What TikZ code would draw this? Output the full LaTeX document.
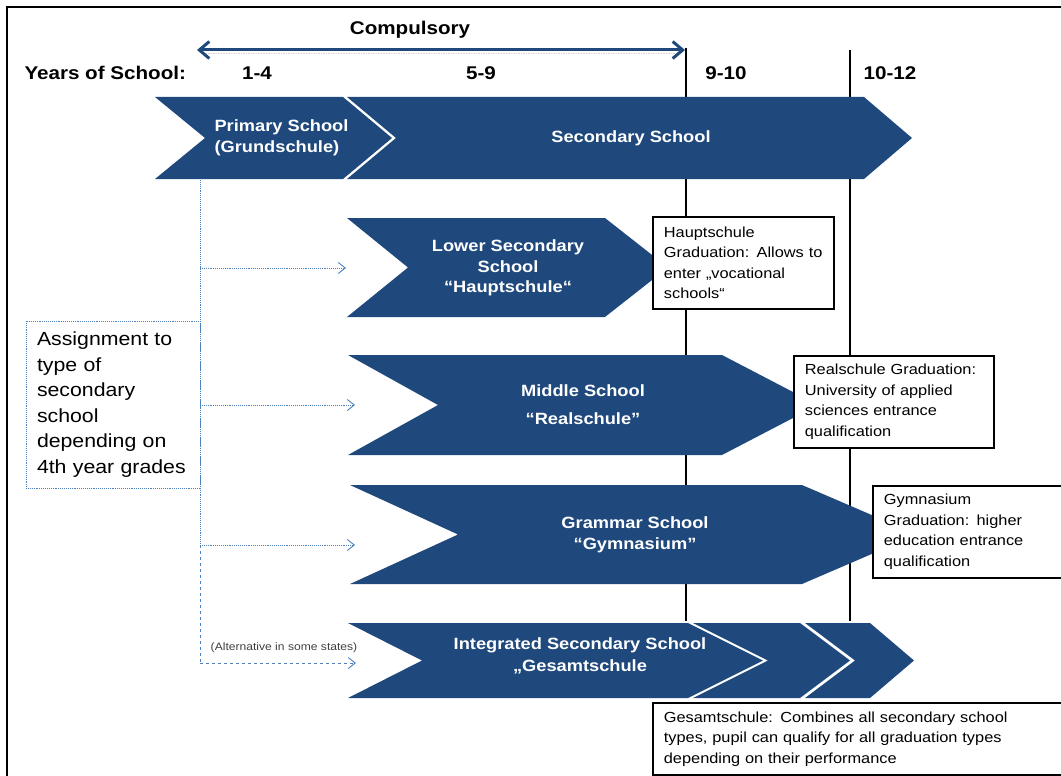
\documentclass[tikz,border=0pt]{standalone}
\usepackage{fontspec}
\setmainfont{Liberation Sans}[FakeStretch=1.12]
\usepackage{tikz}
\usetikzlibrary{arrows.meta,positioning}
\definecolor{schoolblue}{RGB}{31,73,125}
\definecolor{linkblue}{RGB}{79,129,189}

\begin{document}
\begin{tikzpicture}[x=1pt, y=-1pt, >={Straight Barb[length=7pt,width=11pt]},
    chev/.style={fill=schoolblue},
    chevtext/.style={text=white, font=\fontsize{16.3}{20.5}\selectfont\bfseries, align=center},
    head/.style={anchor=base, font=\fontsize{18.4}{22}\selectfont\bfseries},
    infobox/.style={draw=black, line width=1.8pt, fill=white, anchor=north west, align=left,
      inner xsep=11pt, inner ysep=0pt, font=\fontsize{14.6}{20.5}\selectfont},
    link/.style={draw=linkblue, densely dotted, line width=0.9pt},
    yearline/.style={draw=black, line width=1.6pt}]
   \useasboundingbox (0,0) rectangle (1061,776);
   \clip (0,0) rectangle (1061,776);
   \draw[line width=2.5pt] (7,800) -- (7,7) -- (1080,7);

   %years
   \node[head, anchor=base west] (yrs) at (21,80) {Years of School:};
   \node[head] (y14) at (257,80) {1-4};
   \node[head] (y59) at (481,80) {5-9};
   \node[head] (y910) at (726,80) {9-10};
   \node[head] (y1012) at (890,80) {10-12};
   \node[head] (comp) at (410,35) {Compulsory};
   \coordinate (cl) at (197,50);
   \coordinate (cr) at (685,50);
   \coordinate (t1) at (686,48);
   \coordinate (t2) at (850,50);
   \coordinate (b1) at (686,621);
   \coordinate (b2) at (850,621);

   \draw[yearline] (t1) -- (b1);
   \draw[yearline] (t2) -- (b2);
   \draw[gray!35, densely dotted, line width=1.5pt] (203,53.5) -- (680,53.5);
   \draw[draw=schoolblue, line width=3pt,
     {Straight Barb[length=10pt,width=17pt]}-{Straight Barb[length=10pt,width=17pt]}] (cl) -- (cr);

   %primary and secondary
   \fill[chev] (347,97) -- (864,97) -- (912,138) -- (864,179) -- (347,179) -- (396,138) -- cycle;
   \fill[chev] (155,97) -- (343,97) -- (392,138) -- (343,179) -- (155,179) -- (205,138) -- cycle;
   \node[chevtext, anchor=west, align=left] (prim) at (211,138) {Primary School\\(Grundschule)};
   \node[chevtext] (sec) at (631,138) {Secondary School};

   %lower secondary
   \fill[chev] (347,218) -- (605,218) -- (668,267.5) -- (605,317) -- (347,317) -- (408,267.5) -- cycle;
   \node[chevtext] (hs) at (508,268) {Lower Secondary\\School\\“Hauptschule“};

   %middle
   \fill[chev] (348,355) -- (722,355) -- (818,405) -- (722,455) -- (348,455) -- (438,405) -- cycle;
   \node[chevtext, font=\fontsize{16.3}{28}\selectfont\bfseries] (rs) at (583,405) {Middle School\\“Realschule”};

   %grammar
   \fill[chev] (350,485) -- (802,485) -- (917,534.5) -- (802,584) -- (350,584) -- (458,534.5) -- cycle;
   \node[chevtext, font=\fontsize{16.3}{21.5}\selectfont\bfseries] (gy) at (635,535) {Grammar School\\“Gymnasium”};

   %integrated
   \fill[chev] (348,623) -- (688,623) -- (763,660.5) -- (688,698) -- (348,698) -- (422,660.5) -- cycle;
   \fill[chev] (693,623) -- (800,623) -- (850,660.5) -- (800,698) -- (693,698) -- (768,660.5) -- cycle;
   \fill[chev] (805,623) -- (870,623) -- (914,660.5) -- (870,698) -- (805,698) -- (855,660.5) -- cycle;
   \node[chevtext, font=\fontsize{16.3}{22}\selectfont\bfseries] (gs) at (580,656) {Integrated Secondary School\\„Gesamtschule};

   %graduations
   \node[infobox, minimum height=92pt, text width=159pt] (hsg) at (652,216)
     {Hauptschule\\Graduation: Allows to\\enter „vocational\\schools“};
   \node[infobox, minimum height=92pt, text width=178pt] (rsg) at (793,355)
     {Realschule Graduation:\\University of applied\\sciences entrance\\qualification};
   \node[infobox, minimum height=92pt, text width=178pt] (gyg) at (872,485)
     {Gymnasium\\Graduation: higher\\education entrance\\qualification};
   \node[infobox, minimum height=72pt, text width=398pt] (gsg) at (652,702)
     {Gesamtschule: Combines all secondary school\\types, pupil can qualify for all graduation types\\depending on their performance};

   %assignment
   \node[link, minimum width=174pt, minimum height=167pt, text width=152pt, inner xsep=11pt,
     align=left, font=\fontsize{19}{25.5}\selectfont] (asg) at (113,404.5)
     {Assignment to\\type of\\secondary\\school\\depending on\\4th year grades};
   \node[font=\fontsize{10.8}{13}\selectfont, text=black!75] (alt) at (284,648) {(Alternative in some states)};

   \coordinate (p0) at (200,180);
   \coordinate (a2) at (200,268);
   \coordinate (a3) at (200,405);
   \coordinate (a4) at (200,545);
   \coordinate (a5) at (200,663);
   \coordinate (e2) at (346,268);
   \coordinate (e3) at (355,405);
   \coordinate (e4) at (355,545);
   \coordinate (e5) at (356,663);

  \draw[link] (p0) -- (a4);
  \path[->]
    (a2) edge[link] (e2)
    (a3) edge[link] (e3)
    (a4) edge[link] (e4);
  \draw[link, dashed] (a4) -- (a5);
  \draw[link, dashed, ->] (a5) -- (e5);
\end{tikzpicture}
\end{document}
